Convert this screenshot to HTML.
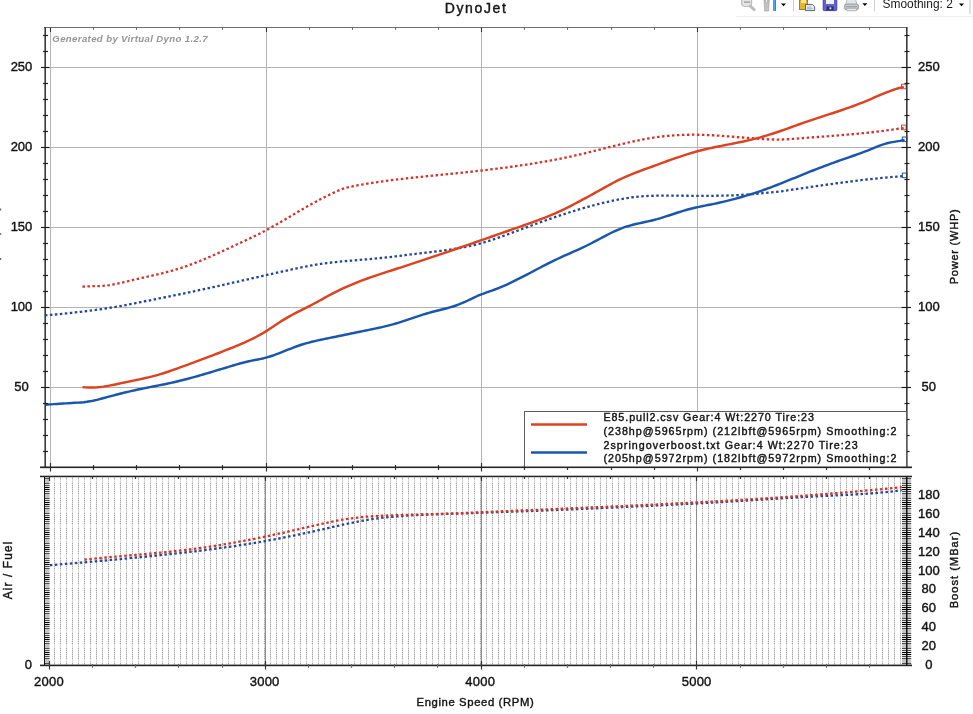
<!DOCTYPE html><html><head><meta charset="utf-8"><title>DynoJet</title><style>
html,body{margin:0;padding:0;background:#fff;overflow:hidden}
svg{display:block;filter:blur(0.3px)}text{font-family:"Liberation Sans", sans-serif;stroke:#111;stroke-width:0.4px}
</style></head><body>
<svg width="973" height="714" viewBox="0 0 973 714">
<rect width="973" height="714" fill="#fff"/>
<rect x="736" y="16" width="237" height="1" fill="#efefef"/>
<rect x="741.6" y="-4" width="10" height="10.5" rx="3.5" fill="#e4e4e4" stroke="#bcbcbc" stroke-width="1.2"/>
<rect x="744" y="1.4" width="6" height="1.6" fill="#a9a9a9"/>
<line x1="750.3" y1="6.2" x2="754.2" y2="9.6" stroke="#bdbdbd" stroke-width="3" stroke-linecap="round"/>
<path d="M764,0 L764.5,8 L764.5,11 L768.8,11 L768.8,8 L769.3,0 L767.6,0 L767.4,3 L766,3 L765.8,0 Z" fill="#c2c2c2" stroke="#a0a0a0" stroke-width="0.6"/>
<rect x="773" y="0" width="3" height="11" fill="#2a8ad8"/>
<rect x="773.6" y="0" width="1" height="11" fill="#6fc0f5"/>
<path d="M781,3.4 L786,3.4 L783.5,6.3 Z" fill="#000"/>
<rect x="793" y="0" width="1" height="11.5" fill="#cfcfcf"/>
<rect x="799.5" y="0" width="8" height="9.5" fill="#e0b830" stroke="#8a6a10" stroke-width="0.8"/>
<rect x="801" y="0" width="5" height="3" fill="#f6e49a"/>
<path d="M805.5,4.5 L812.5,4.5 L814.6,6.6 L814.6,10.6 L805.5,10.6 Z" fill="#e8eef4" stroke="#4a5668" stroke-width="0.9"/>
<line x1="807" y1="7" x2="811.5" y2="7" stroke="#8a9ab0" stroke-width="0.8"/>
<line x1="807" y1="8.8" x2="812.5" y2="8.8" stroke="#8a9ab0" stroke-width="0.8"/>
<rect x="823.2" y="-1" width="13.6" height="11.6" rx="1" fill="#6464c8" stroke="#3a3a92" stroke-width="0.9"/>
<rect x="826" y="-1" width="8" height="5" fill="#eef0ff"/>
<rect x="826.5" y="6.4" width="7" height="4" fill="#2e2e78"/>
<rect x="829.5" y="7.3" width="1.8" height="2" fill="#dde"/>
<path d="M847.2,-1 L855.5,-1 L857,5 L845.6,5 Z" fill="#e3e7e9" stroke="#9aa0a3" stroke-width="0.7"/>
<rect x="844.3" y="4" width="14.4" height="5.8" rx="2.6" fill="#c5c9cb" stroke="#8c9194" stroke-width="0.8"/>
<rect x="845.5" y="6" width="12" height="1.2" fill="#a3a8ab"/>
<rect x="846.3" y="8.2" width="10.5" height="2.6" rx="1.2" fill="#e2e5e6" stroke="#8c9194" stroke-width="0.6"/>
<path d="M862.4,3.2 L867.4,3.2 L864.9,6.1 Z" fill="#000"/>
<rect x="874" y="0" width="1" height="11.5" fill="#cfcfcf"/>
<text x="882.5" y="8.2" font-size="12" fill="#1a1a1a" style="stroke:none" textLength="70.3" lengthAdjust="spacingAndGlyphs">Smoothing: 2</text>
<path d="M959,3.4 L964,3.4 L961.5,6.3 Z" fill="#000"/>
<rect x="969.5" y="0" width="1" height="14" fill="#c4c4c4"/>
<rect x="0" y="208.5" width="1.2" height="2" fill="#666"/>
<rect x="0" y="233" width="1.2" height="2" fill="#777"/>
<rect x="0" y="258" width="1.2" height="2" fill="#666"/>
<text x="444.8" y="12.8" font-size="14" fill="#151515" textLength="61" lengthAdjust="spacing">DynoJet</text>
<line x1="46" y1="387.5" x2="906" y2="387.5" stroke="#b3b3b3" stroke-width="1"/>
<line x1="46" y1="307.5" x2="906" y2="307.5" stroke="#b3b3b3" stroke-width="1"/>
<line x1="46" y1="227.5" x2="906" y2="227.5" stroke="#b3b3b3" stroke-width="1"/>
<line x1="46" y1="147.5" x2="906" y2="147.5" stroke="#b3b3b3" stroke-width="1"/>
<line x1="46" y1="67.5" x2="906" y2="67.5" stroke="#b3b3b3" stroke-width="1"/>
<line x1="50.5" y1="28" x2="50.5" y2="467" stroke="#b3b3b3" stroke-width="1"/>
<line x1="266.5" y1="28" x2="266.5" y2="467" stroke="#b3b3b3" stroke-width="1"/>
<line x1="481.5" y1="28" x2="481.5" y2="467" stroke="#b3b3b3" stroke-width="1"/>
<line x1="697.5" y1="28" x2="697.5" y2="467" stroke="#b3b3b3" stroke-width="1"/>
<text x="52.3" y="42" font-size="9.6" font-weight="bold" font-style="italic" fill="#959595" style="stroke:none" textLength="155.3" lengthAdjust="spacing">Generated by Virtual Dyno 1.2.7</text>
<path d="M44.9,315.40 L47.9,315.13 L50.9,314.87 L53.9,314.59 L56.9,314.31 L59.9,314.02 L62.9,313.73 L65.9,313.43 L68.9,313.11 L71.9,312.80 L74.9,312.47 L77.9,312.13 L80.9,311.78 L83.9,311.42 L86.9,311.05 L89.9,310.67 L92.9,310.28 L95.9,309.87 L98.9,309.45 L101.9,309.02 L104.9,308.58 L107.9,308.12 L110.9,307.65 L113.9,307.16 L116.9,306.65 L119.9,306.13 L122.9,305.59 L125.9,305.04 L128.9,304.47 L131.9,303.89 L134.9,303.30 L137.9,302.70 L140.9,302.10 L143.9,301.49 L146.9,300.88 L149.9,300.27 L152.9,299.66 L155.9,299.05 L158.9,298.45 L161.9,297.85 L164.9,297.25 L167.9,296.66 L170.9,296.06 L173.9,295.46 L176.9,294.86 L179.9,294.25 L182.9,293.63 L185.9,293.01 L188.9,292.38 L191.9,291.75 L194.9,291.11 L197.9,290.47 L200.9,289.82 L203.9,289.17 L206.9,288.52 L209.9,287.86 L212.9,287.19 L215.9,286.52 L218.9,285.85 L221.9,285.18 L224.9,284.51 L227.9,283.83 L230.9,283.15 L233.9,282.47 L236.9,281.79 L239.9,281.11 L242.9,280.42 L245.9,279.74 L248.9,279.06 L251.9,278.37 L254.9,277.69 L257.9,277.01 L260.9,276.33 L263.9,275.65 L266.9,274.97 L269.9,274.30 L272.9,273.62 L275.9,272.95 L278.9,272.28 L281.9,271.62 L284.9,270.96 L287.9,270.30 L290.9,269.65 L293.9,269.00 L296.9,268.36 L299.9,267.73 L302.9,267.12 L305.9,266.52 L308.9,265.95 L311.9,265.40 L314.9,264.88 L317.9,264.39 L320.9,263.93 L323.9,263.51 L326.9,263.11 L329.9,262.75 L332.9,262.40 L335.9,262.07 L338.9,261.76 L341.9,261.47 L344.9,261.19 L347.9,260.92 L350.9,260.65 L353.9,260.40 L356.9,260.15 L359.9,259.90 L362.9,259.65 L365.9,259.39 L368.9,259.14 L371.9,258.87 L374.9,258.60 L377.9,258.31 L380.9,258.01 L383.9,257.70 L386.9,257.37 L389.9,257.03 L392.9,256.67 L395.9,256.31 L398.9,255.94 L401.9,255.57 L404.9,255.19 L407.9,254.82 L410.9,254.45 L413.9,254.08 L416.9,253.72 L419.9,253.36 L422.9,253.01 L425.9,252.66 L428.9,252.31 L431.9,251.95 L434.9,251.59 L437.9,251.22 L440.9,250.84 L443.9,250.44 L446.9,250.02 L449.9,249.59 L452.9,249.13 L455.9,248.65 L458.9,248.14 L461.9,247.60 L464.9,247.03 L467.9,246.42 L470.9,245.77 L473.9,245.07 L476.9,244.34 L479.9,243.55 L482.9,242.72 L485.9,241.84 L488.9,240.91 L491.9,239.94 L494.9,238.93 L497.9,237.90 L500.9,236.84 L503.9,235.75 L506.9,234.65 L509.9,233.53 L512.9,232.41 L515.9,231.29 L518.9,230.16 L521.9,229.04 L524.9,227.92 L527.9,226.81 L530.9,225.71 L533.9,224.61 L536.9,223.52 L539.9,222.43 L542.9,221.36 L545.9,220.30 L548.9,219.24 L551.9,218.20 L554.9,217.17 L557.9,216.16 L560.9,215.16 L563.9,214.17 L566.9,213.19 L569.9,212.24 L572.9,211.30 L575.9,210.37 L578.9,209.47 L581.9,208.58 L584.9,207.72 L587.9,206.87 L590.9,206.04 L593.9,205.24 L596.9,204.46 L599.9,203.70 L602.9,202.96 L605.9,202.25 L608.9,201.57 L611.9,200.91 L614.9,200.28 L617.9,199.68 L620.9,199.11 L623.9,198.58 L626.9,198.09 L629.9,197.64 L632.9,197.24 L635.9,196.89 L638.9,196.59 L641.9,196.33 L644.9,196.13 L647.9,195.96 L650.9,195.83 L653.9,195.74 L656.9,195.68 L659.9,195.64 L662.9,195.62 L665.9,195.62 L668.9,195.63 L671.9,195.64 L674.9,195.66 L677.9,195.69 L680.9,195.71 L683.9,195.74 L686.9,195.76 L689.9,195.79 L692.9,195.81 L695.9,195.82 L698.9,195.84 L701.9,195.84 L704.9,195.84 L707.9,195.83 L710.9,195.81 L713.9,195.79 L716.9,195.75 L719.9,195.70 L722.9,195.64 L725.9,195.56 L728.9,195.46 L731.9,195.36 L734.9,195.23 L737.9,195.09 L740.9,194.92 L743.9,194.74 L746.9,194.53 L749.9,194.31 L752.9,194.06 L755.9,193.79 L758.9,193.50 L761.9,193.22 L764.9,192.93 L767.9,192.66 L770.9,192.40 L773.9,192.13 L776.9,191.84 L779.9,191.48 L782.9,191.06 L785.9,190.61 L788.9,190.17 L791.9,189.73 L794.9,189.29 L797.9,188.84 L800.9,188.40 L803.9,187.96 L806.9,187.52 L809.9,187.08 L812.9,186.64 L815.9,186.21 L818.9,185.78 L821.9,185.35 L824.9,184.92 L827.9,184.50 L830.9,184.08 L833.9,183.67 L836.9,183.26 L839.9,182.85 L842.9,182.46 L845.9,182.06 L848.9,181.68 L851.9,181.30 L854.9,180.92 L857.9,180.56 L860.9,180.20 L863.9,179.85 L866.9,179.51 L869.9,179.18 L872.9,178.85 L875.9,178.54 L878.9,178.23 L881.9,177.94 L884.9,177.66 L887.9,177.38 L890.9,177.12 L893.9,176.87 L896.9,176.63 L899.9,176.41 L902.9,176.20 L904.6,176.08" fill="none" stroke="#24469a" stroke-width="2.3" stroke-dasharray="2.5 2.5"/>
<path d="M82.4,286.69 L85.4,286.46 L88.4,286.32 L91.4,286.24 L94.4,286.18 L97.4,286.12 L100.4,286.02 L103.4,285.85 L106.4,285.58 L109.4,285.19 L112.4,284.69 L115.4,284.10 L118.4,283.45 L121.4,282.75 L124.4,282.02 L127.4,281.28 L130.4,280.56 L133.4,279.85 L136.4,279.16 L139.4,278.48 L142.4,277.80 L145.4,277.13 L148.4,276.46 L151.4,275.78 L154.4,275.09 L157.4,274.39 L160.4,273.67 L163.4,272.93 L166.4,272.17 L169.4,271.37 L172.4,270.55 L175.4,269.68 L178.4,268.78 L181.4,267.83 L184.4,266.83 L187.4,265.79 L190.4,264.70 L193.4,263.57 L196.4,262.41 L199.4,261.21 L202.4,259.97 L205.4,258.71 L208.4,257.43 L211.4,256.12 L214.4,254.79 L217.4,253.45 L220.4,252.09 L223.4,250.72 L226.4,249.34 L229.4,247.96 L232.4,246.57 L235.4,245.18 L238.4,243.80 L241.4,242.41 L244.4,241.01 L247.4,239.59 L250.4,238.16 L253.4,236.71 L256.4,235.24 L259.4,233.74 L262.4,232.20 L265.4,230.63 L268.4,229.01 L271.4,227.36 L274.4,225.67 L277.4,223.95 L280.4,222.21 L283.4,220.45 L286.4,218.67 L289.4,216.89 L292.4,215.11 L295.4,213.33 L298.4,211.56 L301.4,209.81 L304.4,208.08 L307.4,206.37 L310.4,204.68 L313.4,203.02 L316.4,201.39 L319.4,199.80 L322.4,198.23 L325.4,196.70 L328.4,195.21 L331.4,193.76 L334.4,192.36 L337.4,191.01 L340.4,189.77 L343.4,188.66 L346.4,187.72 L349.4,186.93 L352.4,186.27 L355.4,185.69 L358.4,185.15 L361.4,184.64 L364.4,184.13 L367.4,183.65 L370.4,183.17 L373.4,182.72 L376.4,182.27 L379.4,181.84 L382.4,181.42 L385.4,181.01 L388.4,180.61 L391.4,180.22 L394.4,179.85 L397.4,179.48 L400.4,179.12 L403.4,178.77 L406.4,178.42 L409.4,178.09 L412.4,177.75 L415.4,177.43 L418.4,177.11 L421.4,176.79 L424.4,176.48 L427.4,176.17 L430.4,175.87 L433.4,175.56 L436.4,175.26 L439.4,174.96 L442.4,174.66 L445.4,174.36 L448.4,174.05 L451.4,173.75 L454.4,173.44 L457.4,173.13 L460.4,172.82 L463.4,172.51 L466.4,172.19 L469.4,171.87 L472.4,171.54 L475.4,171.21 L478.4,170.87 L481.4,170.53 L484.4,170.18 L487.4,169.83 L490.4,169.47 L493.4,169.10 L496.4,168.73 L499.4,168.35 L502.4,167.97 L505.4,167.57 L508.4,167.17 L511.4,166.76 L514.4,166.34 L517.4,165.91 L520.4,165.47 L523.4,165.03 L526.4,164.57 L529.4,164.10 L532.4,163.62 L535.4,163.14 L538.4,162.64 L541.4,162.13 L544.4,161.61 L547.4,161.07 L550.4,160.53 L553.4,159.97 L556.4,159.40 L559.4,158.81 L562.4,158.21 L565.4,157.60 L568.4,156.97 L571.4,156.33 L574.4,155.68 L577.4,155.01 L580.4,154.32 L583.4,153.62 L586.4,152.91 L589.4,152.18 L592.4,151.44 L595.4,150.69 L598.4,149.93 L601.4,149.17 L604.4,148.40 L607.4,147.64 L610.4,146.88 L613.4,146.12 L616.4,145.38 L619.4,144.64 L622.4,143.91 L625.4,143.20 L628.4,142.50 L631.4,141.82 L634.4,141.16 L637.4,140.53 L640.4,139.92 L643.4,139.34 L646.4,138.79 L649.4,138.27 L652.4,137.79 L655.4,137.34 L658.4,136.93 L661.4,136.56 L664.4,136.22 L667.4,135.92 L670.4,135.65 L673.4,135.42 L676.4,135.22 L679.4,135.05 L682.4,134.92 L685.4,134.82 L688.4,134.76 L691.4,134.72 L694.4,134.71 L697.4,134.74 L700.4,134.80 L703.4,134.88 L706.4,134.99 L709.4,135.12 L712.4,135.27 L715.4,135.45 L718.4,135.64 L721.4,135.84 L724.4,136.06 L727.4,136.29 L730.4,136.53 L733.4,136.77 L736.4,137.02 L739.4,137.27 L742.4,137.52 L745.4,137.76 L748.4,138.01 L751.4,138.24 L754.4,138.47 L757.4,138.69 L760.4,138.89 L763.4,139.08 L766.4,139.24 L769.4,139.38 L772.4,139.48 L775.4,139.53 L778.4,139.54 L781.4,139.49 L784.4,139.39 L787.4,139.24 L790.4,139.05 L793.4,138.84 L796.4,138.62 L799.4,138.38 L802.4,138.15 L805.4,137.92 L808.4,137.69 L811.4,137.46 L814.4,137.24 L817.4,137.01 L820.4,136.78 L823.4,136.56 L826.4,136.32 L829.4,136.09 L832.4,135.86 L835.4,135.62 L838.4,135.37 L841.4,135.13 L844.4,134.87 L847.4,134.61 L850.4,134.35 L853.4,134.08 L856.4,133.80 L859.4,133.51 L862.4,133.21 L865.4,132.90 L868.4,132.59 L871.4,132.26 L874.4,131.93 L877.4,131.58 L880.4,131.21 L883.4,130.84 L886.4,130.45 L889.4,130.05 L892.4,129.64 L895.4,129.21 L898.4,128.76 L901.4,128.30 L903.8,127.91" fill="none" stroke="#d5332a" stroke-width="2.3" stroke-dasharray="2.5 2.5"/>
<path d="M44.9,404.81 L47.9,404.58 L50.9,404.36 L53.9,404.15 L56.9,403.94 L59.9,403.74 L62.9,403.55 L65.9,403.36 L68.9,403.18 L71.9,403.00 L74.9,402.83 L77.9,402.65 L80.9,402.43 L83.9,402.16 L86.9,401.80 L89.9,401.33 L92.9,400.75 L95.9,400.07 L98.9,399.32 L101.9,398.53 L104.9,397.71 L107.9,396.90 L110.9,396.10 L113.9,395.31 L116.9,394.53 L119.9,393.77 L122.9,393.03 L125.9,392.30 L128.9,391.59 L131.9,390.89 L134.9,390.22 L137.9,389.57 L140.9,388.94 L143.9,388.33 L146.9,387.73 L149.9,387.14 L152.9,386.56 L155.9,385.97 L158.9,385.39 L161.9,384.79 L164.9,384.18 L167.9,383.55 L170.9,382.90 L173.9,382.22 L176.9,381.52 L179.9,380.79 L182.9,380.04 L185.9,379.26 L188.9,378.47 L191.9,377.65 L194.9,376.82 L197.9,375.98 L200.9,375.12 L203.9,374.25 L206.9,373.37 L209.9,372.48 L212.9,371.58 L215.9,370.68 L218.9,369.78 L221.9,368.88 L224.9,367.97 L227.9,367.07 L230.9,366.17 L233.9,365.28 L236.9,364.40 L239.9,363.54 L242.9,362.72 L245.9,361.95 L248.9,361.25 L251.9,360.62 L254.9,360.03 L257.9,359.46 L260.9,358.85 L263.9,358.18 L266.9,357.41 L269.9,356.52 L272.9,355.53 L275.9,354.45 L278.9,353.32 L281.9,352.14 L284.9,350.93 L287.9,349.73 L290.9,348.53 L293.9,347.37 L296.9,346.26 L299.9,345.23 L302.9,344.27 L305.9,343.38 L308.9,342.56 L311.9,341.80 L314.9,341.08 L317.9,340.40 L320.9,339.75 L323.9,339.12 L326.9,338.51 L329.9,337.90 L332.9,337.29 L335.9,336.68 L338.9,336.06 L341.9,335.44 L344.9,334.81 L347.9,334.18 L350.9,333.56 L353.9,332.94 L356.9,332.32 L359.9,331.71 L362.9,331.10 L365.9,330.50 L368.9,329.89 L371.9,329.27 L374.9,328.65 L377.9,328.00 L380.9,327.34 L383.9,326.64 L386.9,325.92 L389.9,325.16 L392.9,324.35 L395.9,323.50 L398.9,322.60 L401.9,321.65 L404.9,320.67 L407.9,319.67 L410.9,318.65 L413.9,317.63 L416.9,316.62 L419.9,315.62 L422.9,314.66 L425.9,313.73 L428.9,312.84 L431.9,312.02 L434.9,311.23 L437.9,310.48 L440.9,309.73 L443.9,308.97 L446.9,308.19 L449.9,307.36 L452.9,306.46 L455.9,305.49 L458.9,304.42 L461.9,303.23 L464.9,301.92 L467.9,300.51 L470.9,299.07 L473.9,297.62 L476.9,296.24 L479.9,294.95 L482.9,293.78 L485.9,292.69 L488.9,291.64 L491.9,290.59 L494.9,289.51 L497.9,288.36 L500.9,287.14 L503.9,285.86 L506.9,284.52 L509.9,283.13 L512.9,281.69 L515.9,280.22 L518.9,278.71 L521.9,277.17 L524.9,275.61 L527.9,274.04 L530.9,272.46 L533.9,270.88 L536.9,269.29 L539.9,267.72 L542.9,266.16 L545.9,264.62 L548.9,263.10 L551.9,261.61 L554.9,260.16 L557.9,258.74 L560.9,257.35 L563.9,255.99 L566.9,254.65 L569.9,253.32 L572.9,251.99 L575.9,250.65 L578.9,249.29 L581.9,247.91 L584.9,246.49 L587.9,245.02 L590.9,243.51 L593.9,241.94 L596.9,240.35 L599.9,238.74 L602.9,237.14 L605.9,235.55 L608.9,234.01 L611.9,232.52 L614.9,231.10 L617.9,229.77 L620.9,228.54 L623.9,227.44 L626.9,226.46 L629.9,225.58 L632.9,224.78 L635.9,224.05 L638.9,223.36 L641.9,222.70 L644.9,222.05 L647.9,221.39 L650.9,220.71 L653.9,219.97 L656.9,219.18 L659.9,218.31 L662.9,217.40 L665.9,216.45 L668.9,215.47 L671.9,214.48 L674.9,213.48 L677.9,212.50 L680.9,211.55 L683.9,210.63 L686.9,209.76 L689.9,208.95 L692.9,208.21 L695.9,207.51 L698.9,206.86 L701.9,206.24 L704.9,205.63 L707.9,205.04 L710.9,204.44 L713.9,203.84 L716.9,203.21 L719.9,202.55 L722.9,201.87 L725.9,201.16 L728.9,200.42 L731.9,199.66 L734.9,198.87 L737.9,198.05 L740.9,197.21 L743.9,196.34 L746.9,195.44 L749.9,194.51 L752.9,193.56 L755.9,192.58 L758.9,191.57 L761.9,190.54 L764.9,189.48 L767.9,188.39 L770.9,187.28 L773.9,186.14 L776.9,184.99 L779.9,183.81 L782.9,182.62 L785.9,181.42 L788.9,180.21 L791.9,178.99 L794.9,177.77 L797.9,176.55 L800.9,175.33 L803.9,174.11 L806.9,172.90 L809.9,171.70 L812.9,170.51 L815.9,169.33 L818.9,168.17 L821.9,167.03 L824.9,165.90 L827.9,164.78 L830.9,163.68 L833.9,162.59 L836.9,161.52 L839.9,160.45 L842.9,159.39 L845.9,158.34 L848.9,157.30 L851.9,156.27 L854.9,155.23 L857.9,154.17 L860.9,153.08 L863.9,151.95 L866.9,150.77 L869.9,149.55 L872.9,148.33 L875.9,147.11 L878.9,145.95 L881.9,144.87 L884.9,143.89 L887.9,143.05 L890.9,142.37 L893.9,141.84 L896.9,141.37 L899.9,140.88 L902.9,140.27 L904.6,139.84" fill="none" stroke="#1a56ab" stroke-width="2.45" stroke-linejoin="round"/>
<path d="M82.4,387.10 L85.4,387.40 L88.4,387.56 L91.4,387.59 L94.4,387.49 L97.4,387.29 L100.4,387.00 L103.4,386.62 L106.4,386.16 L109.4,385.64 L112.4,385.07 L115.4,384.46 L118.4,383.82 L121.4,383.17 L124.4,382.51 L127.4,381.85 L130.4,381.21 L133.4,380.58 L136.4,379.97 L139.4,379.35 L142.4,378.72 L145.4,378.07 L148.4,377.38 L151.4,376.66 L154.4,375.89 L157.4,375.06 L160.4,374.18 L163.4,373.24 L166.4,372.27 L169.4,371.25 L172.4,370.21 L175.4,369.14 L178.4,368.06 L181.4,366.97 L184.4,365.88 L187.4,364.78 L190.4,363.68 L193.4,362.57 L196.4,361.46 L199.4,360.34 L202.4,359.22 L205.4,358.09 L208.4,356.95 L211.4,355.81 L214.4,354.66 L217.4,353.50 L220.4,352.33 L223.4,351.15 L226.4,349.96 L229.4,348.76 L232.4,347.55 L235.4,346.32 L238.4,345.08 L241.4,343.81 L244.4,342.51 L247.4,341.15 L250.4,339.75 L253.4,338.28 L256.4,336.75 L259.4,335.13 L262.4,333.43 L265.4,331.63 L268.4,329.73 L271.4,327.76 L274.4,325.76 L277.4,323.75 L280.4,321.79 L283.4,319.90 L286.4,318.11 L289.4,316.40 L292.4,314.75 L295.4,313.16 L298.4,311.61 L301.4,310.09 L304.4,308.58 L307.4,307.07 L310.4,305.54 L313.4,303.99 L316.4,302.39 L319.4,300.75 L322.4,299.09 L325.4,297.43 L328.4,295.78 L331.4,294.16 L334.4,292.59 L337.4,291.07 L340.4,289.62 L343.4,288.21 L346.4,286.86 L349.4,285.55 L352.4,284.28 L355.4,283.06 L358.4,281.87 L361.4,280.72 L364.4,279.60 L367.4,278.51 L370.4,277.44 L373.4,276.40 L376.4,275.38 L379.4,274.37 L382.4,273.38 L385.4,272.40 L388.4,271.43 L391.4,270.46 L394.4,269.50 L397.4,268.53 L400.4,267.57 L403.4,266.59 L406.4,265.62 L409.4,264.64 L412.4,263.65 L415.4,262.66 L418.4,261.67 L421.4,260.67 L424.4,259.67 L427.4,258.67 L430.4,257.66 L433.4,256.65 L436.4,255.64 L439.4,254.62 L442.4,253.61 L445.4,252.58 L448.4,251.56 L451.4,250.53 L454.4,249.50 L457.4,248.47 L460.4,247.44 L463.4,246.40 L466.4,245.37 L469.4,244.33 L472.4,243.29 L475.4,242.24 L478.4,241.20 L481.4,240.16 L484.4,239.11 L487.4,238.07 L490.4,237.02 L493.4,235.97 L496.4,234.92 L499.4,233.88 L502.4,232.83 L505.4,231.78 L508.4,230.73 L511.4,229.68 L514.4,228.63 L517.4,227.59 L520.4,226.54 L523.4,225.49 L526.4,224.43 L529.4,223.37 L532.4,222.29 L535.4,221.19 L538.4,220.08 L541.4,218.94 L544.4,217.78 L547.4,216.59 L550.4,215.36 L553.4,214.10 L556.4,212.80 L559.4,211.45 L562.4,210.06 L565.4,208.62 L568.4,207.12 L571.4,205.58 L574.4,204.00 L577.4,202.40 L580.4,200.80 L583.4,199.20 L586.4,197.61 L589.4,196.00 L592.4,194.36 L595.4,192.69 L598.4,191.01 L601.4,189.32 L604.4,187.63 L607.4,185.97 L610.4,184.33 L613.4,182.73 L616.4,181.18 L619.4,179.68 L622.4,178.26 L625.4,176.90 L628.4,175.60 L631.4,174.36 L634.4,173.16 L637.4,171.99 L640.4,170.86 L643.4,169.74 L646.4,168.65 L649.4,167.56 L652.4,166.48 L655.4,165.39 L658.4,164.29 L661.4,163.19 L664.4,162.10 L667.4,161.02 L670.4,159.94 L673.4,158.88 L676.4,157.83 L679.4,156.80 L682.4,155.80 L685.4,154.83 L688.4,153.88 L691.4,152.97 L694.4,152.10 L697.4,151.27 L700.4,150.48 L703.4,149.73 L706.4,149.02 L709.4,148.34 L712.4,147.69 L715.4,147.06 L718.4,146.44 L721.4,145.85 L724.4,145.26 L727.4,144.67 L730.4,144.09 L733.4,143.50 L736.4,142.91 L739.4,142.30 L742.4,141.68 L745.4,141.03 L748.4,140.36 L751.4,139.66 L754.4,138.93 L757.4,138.16 L760.4,137.34 L763.4,136.48 L766.4,135.59 L769.4,134.68 L772.4,133.74 L775.4,132.78 L778.4,131.78 L781.4,130.75 L784.4,129.69 L787.4,128.61 L790.4,127.51 L793.4,126.41 L796.4,125.32 L799.4,124.23 L802.4,123.17 L805.4,122.13 L808.4,121.11 L811.4,120.10 L814.4,119.11 L817.4,118.12 L820.4,117.14 L823.4,116.16 L826.4,115.19 L829.4,114.21 L832.4,113.22 L835.4,112.23 L838.4,111.23 L841.4,110.22 L844.4,109.19 L847.4,108.14 L850.4,107.07 L853.4,105.98 L856.4,104.86 L859.4,103.71 L862.4,102.53 L865.4,101.31 L868.4,100.06 L871.4,98.78 L874.4,97.49 L877.4,96.21 L880.4,94.93 L883.4,93.69 L886.4,92.48 L889.4,91.32 L892.4,90.22 L895.4,89.20 L898.4,88.27 L901.4,87.44 L903.8,86.86" fill="none" stroke="#dc4321" stroke-width="2.45" stroke-linejoin="round"/>
<rect x="901.5" y="84.2" width="4.6" height="4.6" fill="none" stroke="#dc4321" stroke-width="1"/>
<rect x="901.5" y="125.1" width="4.6" height="4.6" fill="none" stroke="#dc4321" stroke-width="1"/>
<rect x="902.3" y="137.0" width="4.6" height="4.6" fill="none" stroke="#1a56ab" stroke-width="1"/>
<rect x="902.3" y="173.1" width="4.6" height="4.6" fill="none" stroke="#1a56ab" stroke-width="1"/>
<rect x="44" y="27" width="863" height="1" fill="#6e6e6e"/>
<rect x="44.4" y="27" width="1.6" height="441" fill="#3a3a3a"/>
<rect x="906" y="27" width="1.6" height="441" fill="#3a3a3a"/>
<line x1="41" y1="467.5" x2="49.5" y2="467.5" stroke="#1e1e1e" stroke-width="1.2"/>
<line x1="901.5" y1="467.5" x2="911" y2="467.5" stroke="#1e1e1e" stroke-width="1.2"/>
<line x1="43" y1="451.5" x2="48" y2="451.5" stroke="#1e1e1e" stroke-width="1.2"/>
<line x1="904.5" y1="451.5" x2="909.5" y2="451.5" stroke="#1e1e1e" stroke-width="1.2"/>
<line x1="43" y1="435.5" x2="48" y2="435.5" stroke="#1e1e1e" stroke-width="1.2"/>
<line x1="904.5" y1="435.5" x2="909.5" y2="435.5" stroke="#1e1e1e" stroke-width="1.2"/>
<line x1="43" y1="419.5" x2="48" y2="419.5" stroke="#1e1e1e" stroke-width="1.2"/>
<line x1="904.5" y1="419.5" x2="909.5" y2="419.5" stroke="#1e1e1e" stroke-width="1.2"/>
<line x1="43" y1="403.5" x2="48" y2="403.5" stroke="#1e1e1e" stroke-width="1.2"/>
<line x1="904.5" y1="403.5" x2="909.5" y2="403.5" stroke="#1e1e1e" stroke-width="1.2"/>
<line x1="41" y1="387.5" x2="49.5" y2="387.5" stroke="#1e1e1e" stroke-width="1.2"/>
<line x1="901.5" y1="387.5" x2="911" y2="387.5" stroke="#1e1e1e" stroke-width="1.2"/>
<line x1="43" y1="371.5" x2="48" y2="371.5" stroke="#1e1e1e" stroke-width="1.2"/>
<line x1="904.5" y1="371.5" x2="909.5" y2="371.5" stroke="#1e1e1e" stroke-width="1.2"/>
<line x1="43" y1="355.5" x2="48" y2="355.5" stroke="#1e1e1e" stroke-width="1.2"/>
<line x1="904.5" y1="355.5" x2="909.5" y2="355.5" stroke="#1e1e1e" stroke-width="1.2"/>
<line x1="43" y1="339.5" x2="48" y2="339.5" stroke="#1e1e1e" stroke-width="1.2"/>
<line x1="904.5" y1="339.5" x2="909.5" y2="339.5" stroke="#1e1e1e" stroke-width="1.2"/>
<line x1="43" y1="323.5" x2="48" y2="323.5" stroke="#1e1e1e" stroke-width="1.2"/>
<line x1="904.5" y1="323.5" x2="909.5" y2="323.5" stroke="#1e1e1e" stroke-width="1.2"/>
<line x1="41" y1="307.5" x2="49.5" y2="307.5" stroke="#1e1e1e" stroke-width="1.2"/>
<line x1="901.5" y1="307.5" x2="911" y2="307.5" stroke="#1e1e1e" stroke-width="1.2"/>
<line x1="43" y1="291.5" x2="48" y2="291.5" stroke="#1e1e1e" stroke-width="1.2"/>
<line x1="904.5" y1="291.5" x2="909.5" y2="291.5" stroke="#1e1e1e" stroke-width="1.2"/>
<line x1="43" y1="275.5" x2="48" y2="275.5" stroke="#1e1e1e" stroke-width="1.2"/>
<line x1="904.5" y1="275.5" x2="909.5" y2="275.5" stroke="#1e1e1e" stroke-width="1.2"/>
<line x1="43" y1="259.5" x2="48" y2="259.5" stroke="#1e1e1e" stroke-width="1.2"/>
<line x1="904.5" y1="259.5" x2="909.5" y2="259.5" stroke="#1e1e1e" stroke-width="1.2"/>
<line x1="43" y1="243.5" x2="48" y2="243.5" stroke="#1e1e1e" stroke-width="1.2"/>
<line x1="904.5" y1="243.5" x2="909.5" y2="243.5" stroke="#1e1e1e" stroke-width="1.2"/>
<line x1="41" y1="227.5" x2="49.5" y2="227.5" stroke="#1e1e1e" stroke-width="1.2"/>
<line x1="901.5" y1="227.5" x2="911" y2="227.5" stroke="#1e1e1e" stroke-width="1.2"/>
<line x1="43" y1="211.5" x2="48" y2="211.5" stroke="#1e1e1e" stroke-width="1.2"/>
<line x1="904.5" y1="211.5" x2="909.5" y2="211.5" stroke="#1e1e1e" stroke-width="1.2"/>
<line x1="43" y1="195.5" x2="48" y2="195.5" stroke="#1e1e1e" stroke-width="1.2"/>
<line x1="904.5" y1="195.5" x2="909.5" y2="195.5" stroke="#1e1e1e" stroke-width="1.2"/>
<line x1="43" y1="179.5" x2="48" y2="179.5" stroke="#1e1e1e" stroke-width="1.2"/>
<line x1="904.5" y1="179.5" x2="909.5" y2="179.5" stroke="#1e1e1e" stroke-width="1.2"/>
<line x1="43" y1="163.5" x2="48" y2="163.5" stroke="#1e1e1e" stroke-width="1.2"/>
<line x1="904.5" y1="163.5" x2="909.5" y2="163.5" stroke="#1e1e1e" stroke-width="1.2"/>
<line x1="41" y1="147.5" x2="49.5" y2="147.5" stroke="#1e1e1e" stroke-width="1.2"/>
<line x1="901.5" y1="147.5" x2="911" y2="147.5" stroke="#1e1e1e" stroke-width="1.2"/>
<line x1="43" y1="131.5" x2="48" y2="131.5" stroke="#1e1e1e" stroke-width="1.2"/>
<line x1="904.5" y1="131.5" x2="909.5" y2="131.5" stroke="#1e1e1e" stroke-width="1.2"/>
<line x1="43" y1="115.5" x2="48" y2="115.5" stroke="#1e1e1e" stroke-width="1.2"/>
<line x1="904.5" y1="115.5" x2="909.5" y2="115.5" stroke="#1e1e1e" stroke-width="1.2"/>
<line x1="43" y1="99.5" x2="48" y2="99.5" stroke="#1e1e1e" stroke-width="1.2"/>
<line x1="904.5" y1="99.5" x2="909.5" y2="99.5" stroke="#1e1e1e" stroke-width="1.2"/>
<line x1="43" y1="83.5" x2="48" y2="83.5" stroke="#1e1e1e" stroke-width="1.2"/>
<line x1="904.5" y1="83.5" x2="909.5" y2="83.5" stroke="#1e1e1e" stroke-width="1.2"/>
<line x1="41" y1="67.5" x2="49.5" y2="67.5" stroke="#1e1e1e" stroke-width="1.2"/>
<line x1="901.5" y1="67.5" x2="911" y2="67.5" stroke="#1e1e1e" stroke-width="1.2"/>
<line x1="43" y1="51.5" x2="48" y2="51.5" stroke="#1e1e1e" stroke-width="1.2"/>
<line x1="904.5" y1="51.5" x2="909.5" y2="51.5" stroke="#1e1e1e" stroke-width="1.2"/>
<line x1="43" y1="35.5" x2="48" y2="35.5" stroke="#1e1e1e" stroke-width="1.2"/>
<line x1="904.5" y1="35.5" x2="909.5" y2="35.5" stroke="#1e1e1e" stroke-width="1.2"/>
<line x1="50.5" y1="27.5" x2="50.5" y2="32.0" stroke="#333" stroke-width="1.1"/>
<line x1="50.5" y1="463.0" x2="50.5" y2="471.5" stroke="#333" stroke-width="1.2"/>
<line x1="93.5" y1="27.5" x2="93.5" y2="29.8" stroke="#666" stroke-width="1.1"/>
<line x1="93.5" y1="465.0" x2="93.5" y2="470.0" stroke="#333" stroke-width="1.2"/>
<line x1="136.5" y1="27.5" x2="136.5" y2="29.8" stroke="#666" stroke-width="1.1"/>
<line x1="136.5" y1="465.0" x2="136.5" y2="470.0" stroke="#333" stroke-width="1.2"/>
<line x1="179.5" y1="27.5" x2="179.5" y2="29.8" stroke="#666" stroke-width="1.1"/>
<line x1="179.5" y1="465.0" x2="179.5" y2="470.0" stroke="#333" stroke-width="1.2"/>
<line x1="222.5" y1="27.5" x2="222.5" y2="29.8" stroke="#666" stroke-width="1.1"/>
<line x1="222.5" y1="465.0" x2="222.5" y2="470.0" stroke="#333" stroke-width="1.2"/>
<line x1="266.5" y1="27.5" x2="266.5" y2="32.0" stroke="#333" stroke-width="1.1"/>
<line x1="266.5" y1="463.0" x2="266.5" y2="471.5" stroke="#333" stroke-width="1.2"/>
<line x1="309.5" y1="27.5" x2="309.5" y2="29.8" stroke="#666" stroke-width="1.1"/>
<line x1="309.5" y1="465.0" x2="309.5" y2="470.0" stroke="#333" stroke-width="1.2"/>
<line x1="352.5" y1="27.5" x2="352.5" y2="29.8" stroke="#666" stroke-width="1.1"/>
<line x1="352.5" y1="465.0" x2="352.5" y2="470.0" stroke="#333" stroke-width="1.2"/>
<line x1="395.5" y1="27.5" x2="395.5" y2="29.8" stroke="#666" stroke-width="1.1"/>
<line x1="395.5" y1="465.0" x2="395.5" y2="470.0" stroke="#333" stroke-width="1.2"/>
<line x1="438.5" y1="27.5" x2="438.5" y2="29.8" stroke="#666" stroke-width="1.1"/>
<line x1="438.5" y1="465.0" x2="438.5" y2="470.0" stroke="#333" stroke-width="1.2"/>
<line x1="481.5" y1="27.5" x2="481.5" y2="32.0" stroke="#333" stroke-width="1.1"/>
<line x1="481.5" y1="463.0" x2="481.5" y2="471.5" stroke="#333" stroke-width="1.2"/>
<line x1="524.5" y1="27.5" x2="524.5" y2="29.8" stroke="#666" stroke-width="1.1"/>
<line x1="524.5" y1="465.0" x2="524.5" y2="470.0" stroke="#333" stroke-width="1.2"/>
<line x1="567.5" y1="27.5" x2="567.5" y2="29.8" stroke="#666" stroke-width="1.1"/>
<line x1="567.5" y1="465.0" x2="567.5" y2="470.0" stroke="#333" stroke-width="1.2"/>
<line x1="611.5" y1="27.5" x2="611.5" y2="29.8" stroke="#666" stroke-width="1.1"/>
<line x1="611.5" y1="465.0" x2="611.5" y2="470.0" stroke="#333" stroke-width="1.2"/>
<line x1="654.5" y1="27.5" x2="654.5" y2="29.8" stroke="#666" stroke-width="1.1"/>
<line x1="654.5" y1="465.0" x2="654.5" y2="470.0" stroke="#333" stroke-width="1.2"/>
<line x1="697.5" y1="27.5" x2="697.5" y2="32.0" stroke="#333" stroke-width="1.1"/>
<line x1="697.5" y1="463.0" x2="697.5" y2="471.5" stroke="#333" stroke-width="1.2"/>
<line x1="740.5" y1="27.5" x2="740.5" y2="29.8" stroke="#666" stroke-width="1.1"/>
<line x1="740.5" y1="465.0" x2="740.5" y2="470.0" stroke="#333" stroke-width="1.2"/>
<line x1="783.5" y1="27.5" x2="783.5" y2="29.8" stroke="#666" stroke-width="1.1"/>
<line x1="783.5" y1="465.0" x2="783.5" y2="470.0" stroke="#333" stroke-width="1.2"/>
<line x1="826.5" y1="27.5" x2="826.5" y2="29.8" stroke="#666" stroke-width="1.1"/>
<line x1="826.5" y1="465.0" x2="826.5" y2="470.0" stroke="#333" stroke-width="1.2"/>
<line x1="869.5" y1="27.5" x2="869.5" y2="29.8" stroke="#666" stroke-width="1.1"/>
<line x1="869.5" y1="465.0" x2="869.5" y2="470.0" stroke="#333" stroke-width="1.2"/>
<rect x="524.5" y="411.5" width="382" height="56" fill="#fff" stroke="#5c5c5c" stroke-width="1"/>
<line x1="531" y1="424.5" x2="587" y2="424.5" stroke="#dc4321" stroke-width="2.6"/>
<line x1="531" y1="452.5" x2="587" y2="452.5" stroke="#1a56ab" stroke-width="2.6"/>
<text x="603.4" y="421.0" font-size="10.7" fill="#151515" textLength="210.5" lengthAdjust="spacing">E85.pull2.csv Gear:4 Wt:2270 Tire:23</text>
<text x="603.4" y="434.9" font-size="10.7" fill="#151515" textLength="293.0" lengthAdjust="spacing">(238hp@5965rpm) (212lbft@5965rpm) Smoothing:2</text>
<text x="603.4" y="448.9" font-size="10.7" fill="#151515" textLength="254.4" lengthAdjust="spacing">2springoverboost.txt Gear:4 Wt:2270 Tire:23</text>
<text x="603.4" y="462.4" font-size="10.7" fill="#151515" textLength="293.0" lengthAdjust="spacing">(205hp@5972rpm) (182lbft@5972rpm) Smoothing:2</text>
<rect x="40" y="466.5" width="872" height="1.6" fill="#262626"/>
<text x="21.5" y="391.00" font-size="13" fill="#151515" text-anchor="middle">50</text>
<text x="928.8" y="391.00" font-size="13" fill="#151515" text-anchor="middle">50</text>
<text x="21.5" y="311.00" font-size="13" fill="#151515" text-anchor="middle">100</text>
<text x="928.8" y="311.00" font-size="13" fill="#151515" text-anchor="middle">100</text>
<text x="21.5" y="231.00" font-size="13" fill="#151515" text-anchor="middle">150</text>
<text x="928.8" y="231.00" font-size="13" fill="#151515" text-anchor="middle">150</text>
<text x="21.5" y="151.00" font-size="13" fill="#151515" text-anchor="middle">200</text>
<text x="928.8" y="151.00" font-size="13" fill="#151515" text-anchor="middle">200</text>
<text x="21.5" y="71.00" font-size="13" fill="#151515" text-anchor="middle">250</text>
<text x="928.8" y="71.00" font-size="13" fill="#151515" text-anchor="middle">250</text>
<text transform="translate(957.7,284.3) rotate(-90)" font-size="11" fill="#151515" textLength="75" lengthAdjust="spacing">Power (WHP)</text>
<defs><pattern id="mgrid" x="54" y="603" width="6" height="15" patternUnits="userSpaceOnUse"><rect x="0" y="0" width="1" height="15" fill="#d9d9d9"/><rect x="0" y="0" width="1" height="1" fill="#a6a6a6"/><rect x="0" y="2" width="1" height="1" fill="#a6a6a6"/><rect x="0" y="4" width="1" height="1" fill="#a6a6a6"/><rect x="0" y="6" width="1" height="1" fill="#a6a6a6"/><rect x="0" y="8" width="1" height="1" fill="#a6a6a6"/><rect x="0" y="10" width="1" height="1" fill="#a6a6a6"/></pattern></defs>
<rect x="51" y="477" width="851" height="188" fill="url(#mgrid)"/>
<line x1="265.5" y1="477" x2="265.5" y2="665" stroke="#8e8e8e" stroke-width="1"/>
<line x1="481.5" y1="477" x2="481.5" y2="665" stroke="#8e8e8e" stroke-width="1"/>
<line x1="696.5" y1="477" x2="696.5" y2="665" stroke="#8e8e8e" stroke-width="1"/>
<path d="M44.9,565.67 L47.9,565.42 L50.9,565.16 L53.9,564.91 L56.9,564.66 L59.9,564.41 L62.9,564.15 L65.9,563.90 L68.9,563.64 L71.9,563.39 L74.9,563.13 L77.9,562.87 L80.9,562.61 L83.9,562.35 L86.9,562.09 L89.9,561.83 L92.9,561.56 L95.9,561.30 L98.9,561.03 L101.9,560.76 L104.9,560.49 L107.9,560.22 L110.9,559.95 L113.9,559.67 L116.9,559.40 L119.9,559.12 L122.9,558.84 L125.9,558.55 L128.9,558.27 L131.9,557.98 L134.9,557.69 L137.9,557.40 L140.9,557.11 L143.9,556.81 L146.9,556.51 L149.9,556.21 L152.9,555.90 L155.9,555.60 L158.9,555.29 L161.9,554.97 L164.9,554.66 L167.9,554.34 L170.9,554.02 L173.9,553.69 L176.9,553.36 L179.9,553.03 L182.9,552.69 L185.9,552.35 L188.9,552.01 L191.9,551.66 L194.9,551.30 L197.9,550.94 L200.9,550.57 L203.9,550.20 L206.9,549.83 L209.9,549.44 L212.9,549.05 L215.9,548.66 L218.9,548.25 L221.9,547.84 L224.9,547.43 L227.9,547.00 L230.9,546.57 L233.9,546.14 L236.9,545.69 L239.9,545.23 L242.9,544.77 L245.9,544.30 L248.9,543.82 L251.9,543.33 L254.9,542.83 L257.9,542.33 L260.9,541.81 L263.9,541.28 L266.9,540.75 L269.9,540.20 L272.9,539.64 L275.9,539.08 L278.9,538.50 L281.9,537.92 L284.9,537.33 L287.9,536.73 L290.9,536.12 L293.9,535.51 L296.9,534.88 L299.9,534.26 L302.9,533.62 L305.9,532.98 L308.9,532.33 L311.9,531.68 L314.9,531.02 L317.9,530.36 L320.9,529.69 L323.9,529.02 L326.9,528.34 L329.9,527.66 L332.9,526.98 L335.9,526.30 L338.9,525.62 L341.9,524.94 L344.9,524.27 L347.9,523.62 L350.9,522.98 L353.9,522.36 L356.9,521.77 L359.9,521.20 L362.9,520.66 L365.9,520.15 L368.9,519.67 L371.9,519.22 L374.9,518.79 L377.9,518.39 L380.9,518.01 L383.9,517.66 L386.9,517.33 L389.9,517.02 L392.9,516.74 L395.9,516.47 L398.9,516.22 L401.9,515.99 L404.9,515.77 L407.9,515.57 L410.9,515.38 L413.9,515.21 L416.9,515.05 L419.9,514.90 L422.9,514.76 L425.9,514.63 L428.9,514.51 L431.9,514.40 L434.9,514.29 L437.9,514.19 L440.9,514.09 L443.9,514.00 L446.9,513.90 L449.9,513.81 L452.9,513.72 L455.9,513.63 L458.9,513.53 L461.9,513.44 L464.9,513.34 L467.9,513.23 L470.9,513.12 L473.9,513.01 L476.9,512.89 L479.9,512.78 L482.9,512.66 L485.9,512.54 L488.9,512.43 L491.9,512.32 L494.9,512.21 L497.9,512.11 L500.9,512.01 L503.9,511.92 L506.9,511.82 L509.9,511.73 L512.9,511.63 L515.9,511.53 L518.9,511.43 L521.9,511.33 L524.9,511.22 L527.9,511.11 L530.9,511.00 L533.9,510.89 L536.9,510.78 L539.9,510.66 L542.9,510.54 L545.9,510.43 L548.9,510.31 L551.9,510.18 L554.9,510.06 L557.9,509.94 L560.9,509.81 L563.9,509.69 L566.9,509.56 L569.9,509.43 L572.9,509.30 L575.9,509.17 L578.9,509.04 L581.9,508.91 L584.9,508.77 L587.9,508.64 L590.9,508.51 L593.9,508.37 L596.9,508.24 L599.9,508.11 L602.9,507.97 L605.9,507.84 L608.9,507.70 L611.9,507.56 L614.9,507.43 L617.9,507.29 L620.9,507.16 L623.9,507.02 L626.9,506.88 L629.9,506.74 L632.9,506.60 L635.9,506.46 L638.9,506.32 L641.9,506.18 L644.9,506.04 L647.9,505.90 L650.9,505.75 L653.9,505.61 L656.9,505.46 L659.9,505.32 L662.9,505.17 L665.9,505.02 L668.9,504.87 L671.9,504.72 L674.9,504.57 L677.9,504.42 L680.9,504.27 L683.9,504.11 L686.9,503.96 L689.9,503.80 L692.9,503.64 L695.9,503.48 L698.9,503.32 L701.9,503.16 L704.9,502.99 L707.9,502.83 L710.9,502.66 L713.9,502.49 L716.9,502.32 L719.9,502.15 L722.9,501.98 L725.9,501.80 L728.9,501.63 L731.9,501.45 L734.9,501.27 L737.9,501.09 L740.9,500.90 L743.9,500.72 L746.9,500.53 L749.9,500.35 L752.9,500.16 L755.9,499.97 L758.9,499.78 L761.9,499.59 L764.9,499.41 L767.9,499.22 L770.9,499.03 L773.9,498.84 L776.9,498.66 L779.9,498.47 L782.9,498.29 L785.9,498.10 L788.9,497.92 L791.9,497.74 L794.9,497.56 L797.9,497.39 L800.9,497.21 L803.9,497.04 L806.9,496.87 L809.9,496.71 L812.9,496.54 L815.9,496.38 L818.9,496.22 L821.9,496.07 L824.9,495.92 L827.9,495.77 L830.9,495.63 L833.9,495.49 L836.9,495.34 L839.9,495.20 L842.9,495.05 L845.9,494.90 L848.9,494.75 L851.9,494.59 L854.9,494.42 L857.9,494.25 L860.9,494.07 L863.9,493.88 L866.9,493.68 L869.9,493.46 L872.9,493.24 L875.9,493.00 L878.9,492.74 L881.9,492.47 L884.9,492.18 L887.9,491.87 L890.9,491.55 L893.9,491.20 L896.9,490.84 L899.9,490.45 L901.7,490.20" fill="none" stroke="#24469a" stroke-width="2.3" stroke-dasharray="2.5 2.5"/>
<path d="M81.9,559.83 L84.9,559.52 L87.9,559.22 L90.9,558.92 L93.9,558.63 L96.9,558.35 L99.9,558.07 L102.9,557.79 L105.9,557.52 L108.9,557.25 L111.9,556.98 L114.9,556.72 L117.9,556.46 L120.9,556.20 L123.9,555.94 L126.9,555.68 L129.9,555.42 L132.9,555.16 L135.9,554.89 L138.9,554.63 L141.9,554.37 L144.9,554.10 L147.9,553.82 L150.9,553.55 L153.9,553.27 L156.9,552.98 L159.9,552.69 L162.9,552.40 L165.9,552.10 L168.9,551.79 L171.9,551.47 L174.9,551.15 L177.9,550.81 L180.9,550.47 L183.9,550.12 L186.9,549.76 L189.9,549.39 L192.9,549.01 L195.9,548.62 L198.9,548.21 L201.9,547.80 L204.9,547.37 L207.9,546.93 L210.9,546.48 L213.9,546.02 L216.9,545.55 L219.9,545.06 L222.9,544.57 L225.9,544.06 L228.9,543.55 L231.9,543.02 L234.9,542.49 L237.9,541.94 L240.9,541.39 L243.9,540.83 L246.9,540.25 L249.9,539.67 L252.9,539.08 L255.9,538.49 L258.9,537.88 L261.9,537.27 L264.9,536.65 L267.9,536.02 L270.9,535.38 L273.9,534.74 L276.9,534.09 L279.9,533.43 L282.9,532.77 L285.9,532.10 L288.9,531.43 L291.9,530.75 L294.9,530.06 L297.9,529.37 L300.9,528.67 L303.9,527.97 L306.9,527.27 L309.9,526.57 L312.9,525.87 L315.9,525.18 L318.9,524.50 L321.9,523.83 L324.9,523.17 L327.9,522.53 L330.9,521.91 L333.9,521.31 L336.9,520.73 L339.9,520.18 L342.9,519.65 L345.9,519.16 L348.9,518.70 L351.9,518.27 L354.9,517.88 L357.9,517.53 L360.9,517.21 L363.9,516.93 L366.9,516.67 L369.9,516.45 L372.9,516.24 L375.9,516.06 L378.9,515.89 L381.9,515.74 L384.9,515.60 L387.9,515.47 L390.9,515.36 L393.9,515.25 L396.9,515.15 L399.9,515.06 L402.9,514.97 L405.9,514.89 L408.9,514.81 L411.9,514.73 L414.9,514.65 L417.9,514.58 L420.9,514.50 L423.9,514.43 L426.9,514.35 L429.9,514.26 L432.9,514.18 L435.9,514.08 L438.9,513.98 L441.9,513.88 L444.9,513.77 L447.9,513.65 L450.9,513.54 L453.9,513.42 L456.9,513.29 L459.9,513.17 L462.9,513.04 L465.9,512.91 L468.9,512.78 L471.9,512.65 L474.9,512.51 L477.9,512.38 L480.9,512.25 L483.9,512.11 L486.9,511.98 L489.9,511.85 L492.9,511.72 L495.9,511.58 L498.9,511.45 L501.9,511.32 L504.9,511.19 L507.9,511.06 L510.9,510.93 L513.9,510.80 L516.9,510.67 L519.9,510.55 L522.9,510.42 L525.9,510.29 L528.9,510.16 L531.9,510.03 L534.9,509.90 L537.9,509.78 L540.9,509.65 L543.9,509.52 L546.9,509.39 L549.9,509.26 L552.9,509.13 L555.9,509.01 L558.9,508.88 L561.9,508.75 L564.9,508.62 L567.9,508.49 L570.9,508.36 L573.9,508.23 L576.9,508.10 L579.9,507.97 L582.9,507.84 L585.9,507.71 L588.9,507.58 L591.9,507.45 L594.9,507.32 L597.9,507.19 L600.9,507.05 L603.9,506.92 L606.9,506.79 L609.9,506.65 L612.9,506.52 L615.9,506.38 L618.9,506.25 L621.9,506.11 L624.9,505.98 L627.9,505.84 L630.9,505.70 L633.9,505.56 L636.9,505.42 L639.9,505.28 L642.9,505.14 L645.9,505.00 L648.9,504.85 L651.9,504.71 L654.9,504.56 L657.9,504.42 L660.9,504.27 L663.9,504.12 L666.9,503.97 L669.9,503.82 L672.9,503.67 L675.9,503.52 L678.9,503.37 L681.9,503.21 L684.9,503.06 L687.9,502.90 L690.9,502.74 L693.9,502.59 L696.9,502.43 L699.9,502.26 L702.9,502.10 L705.9,501.94 L708.9,501.77 L711.9,501.61 L714.9,501.44 L717.9,501.27 L720.9,501.10 L723.9,500.92 L726.9,500.75 L729.9,500.57 L732.9,500.40 L735.9,500.22 L738.9,500.04 L741.9,499.86 L744.9,499.67 L747.9,499.49 L750.9,499.30 L753.9,499.11 L756.9,498.92 L759.9,498.73 L762.9,498.54 L765.9,498.34 L768.9,498.14 L771.9,497.94 L774.9,497.74 L777.9,497.54 L780.9,497.33 L783.9,497.13 L786.9,496.92 L789.9,496.71 L792.9,496.49 L795.9,496.28 L798.9,496.06 L801.9,495.84 L804.9,495.62 L807.9,495.40 L810.9,495.17 L813.9,494.94 L816.9,494.71 L819.9,494.48 L822.9,494.24 L825.9,494.01 L828.9,493.77 L831.9,493.52 L834.9,493.28 L837.9,493.03 L840.9,492.78 L843.9,492.53 L846.9,492.28 L849.9,492.02 L852.9,491.76 L855.9,491.50 L858.9,491.24 L861.9,490.97 L864.9,490.70 L867.9,490.43 L870.9,490.15 L873.9,489.87 L876.9,489.59 L879.9,489.31 L882.9,489.02 L885.9,488.74 L888.9,488.44 L891.9,488.15 L894.9,487.85 L897.9,487.55 L900.9,487.25 L901.7,487.17" fill="none" stroke="#d5332a" stroke-width="2.3" stroke-dasharray="2.5 2.5" stroke-dashoffset="2.5"/>
<defs><pattern id="band" x="0" y="603" width="12" height="15" patternUnits="userSpaceOnUse"><rect width="12" height="15" fill="#e4e4e4"/><rect y="11" width="12" height="4" fill="#c4c4c4"/><rect y="0" width="12" height="1" fill="#505050"/><rect y="2" width="12" height="1" fill="#505050"/><rect y="4" width="12" height="1" fill="#000"/><rect y="6" width="12" height="1" fill="#000"/><rect y="8" width="12" height="1" fill="#505050"/><rect y="10" width="12" height="1" fill="#505050"/></pattern></defs>
<rect x="45" y="477" width="4.6" height="188" fill="url(#band)"/>
<rect x="902" y="477" width="9.2" height="188" fill="url(#band)"/>
<rect x="44" y="476" width="1" height="190" fill="#111"/>
<rect x="906" y="476" width="1.5" height="190" fill="#111"/>
<rect x="40" y="475.7" width="872" height="1.5" fill="#222"/>
<rect x="40" y="664.6" width="872" height="1.6" fill="#222"/>
<line x1="49.5" y1="661.0" x2="49.5" y2="669.5" stroke="#333" stroke-width="1.2"/>
<line x1="49.5" y1="476.4" x2="49.5" y2="481.0" stroke="#333" stroke-width="1.2"/>
<line x1="92.5" y1="664.0" x2="92.5" y2="667.8" stroke="#666" stroke-width="1.2"/>
<line x1="92.5" y1="476.4" x2="92.5" y2="479.0" stroke="#333" stroke-width="1.2"/>
<line x1="135.5" y1="664.0" x2="135.5" y2="667.8" stroke="#666" stroke-width="1.2"/>
<line x1="135.5" y1="476.4" x2="135.5" y2="479.0" stroke="#333" stroke-width="1.2"/>
<line x1="178.5" y1="664.0" x2="178.5" y2="667.8" stroke="#666" stroke-width="1.2"/>
<line x1="178.5" y1="476.4" x2="178.5" y2="479.0" stroke="#333" stroke-width="1.2"/>
<line x1="222.5" y1="664.0" x2="222.5" y2="667.8" stroke="#666" stroke-width="1.2"/>
<line x1="222.5" y1="476.4" x2="222.5" y2="479.0" stroke="#333" stroke-width="1.2"/>
<line x1="265.5" y1="661.0" x2="265.5" y2="669.5" stroke="#333" stroke-width="1.2"/>
<line x1="265.5" y1="476.4" x2="265.5" y2="481.0" stroke="#333" stroke-width="1.2"/>
<line x1="308.5" y1="664.0" x2="308.5" y2="667.8" stroke="#666" stroke-width="1.2"/>
<line x1="308.5" y1="476.4" x2="308.5" y2="479.0" stroke="#333" stroke-width="1.2"/>
<line x1="351.5" y1="664.0" x2="351.5" y2="667.8" stroke="#666" stroke-width="1.2"/>
<line x1="351.5" y1="476.4" x2="351.5" y2="479.0" stroke="#333" stroke-width="1.2"/>
<line x1="394.5" y1="664.0" x2="394.5" y2="667.8" stroke="#666" stroke-width="1.2"/>
<line x1="394.5" y1="476.4" x2="394.5" y2="479.0" stroke="#333" stroke-width="1.2"/>
<line x1="437.5" y1="664.0" x2="437.5" y2="667.8" stroke="#666" stroke-width="1.2"/>
<line x1="437.5" y1="476.4" x2="437.5" y2="479.0" stroke="#333" stroke-width="1.2"/>
<line x1="481.5" y1="661.0" x2="481.5" y2="669.5" stroke="#333" stroke-width="1.2"/>
<line x1="481.5" y1="476.4" x2="481.5" y2="481.0" stroke="#333" stroke-width="1.2"/>
<line x1="524.5" y1="664.0" x2="524.5" y2="667.8" stroke="#666" stroke-width="1.2"/>
<line x1="524.5" y1="476.4" x2="524.5" y2="479.0" stroke="#333" stroke-width="1.2"/>
<line x1="567.5" y1="664.0" x2="567.5" y2="667.8" stroke="#666" stroke-width="1.2"/>
<line x1="567.5" y1="476.4" x2="567.5" y2="479.0" stroke="#333" stroke-width="1.2"/>
<line x1="610.5" y1="664.0" x2="610.5" y2="667.8" stroke="#666" stroke-width="1.2"/>
<line x1="610.5" y1="476.4" x2="610.5" y2="479.0" stroke="#333" stroke-width="1.2"/>
<line x1="653.5" y1="664.0" x2="653.5" y2="667.8" stroke="#666" stroke-width="1.2"/>
<line x1="653.5" y1="476.4" x2="653.5" y2="479.0" stroke="#333" stroke-width="1.2"/>
<line x1="696.5" y1="661.0" x2="696.5" y2="669.5" stroke="#333" stroke-width="1.2"/>
<line x1="696.5" y1="476.4" x2="696.5" y2="481.0" stroke="#333" stroke-width="1.2"/>
<line x1="740.5" y1="664.0" x2="740.5" y2="667.8" stroke="#666" stroke-width="1.2"/>
<line x1="740.5" y1="476.4" x2="740.5" y2="479.0" stroke="#333" stroke-width="1.2"/>
<line x1="783.5" y1="664.0" x2="783.5" y2="667.8" stroke="#666" stroke-width="1.2"/>
<line x1="783.5" y1="476.4" x2="783.5" y2="479.0" stroke="#333" stroke-width="1.2"/>
<line x1="826.5" y1="664.0" x2="826.5" y2="667.8" stroke="#666" stroke-width="1.2"/>
<line x1="826.5" y1="476.4" x2="826.5" y2="479.0" stroke="#333" stroke-width="1.2"/>
<line x1="869.5" y1="664.0" x2="869.5" y2="667.8" stroke="#666" stroke-width="1.2"/>
<line x1="869.5" y1="476.4" x2="869.5" y2="479.0" stroke="#333" stroke-width="1.2"/>
<text x="928.8" y="668.60" font-size="13" fill="#151515" text-anchor="middle">0</text>
<text x="928.8" y="649.78" font-size="13" fill="#151515" text-anchor="middle">20</text>
<text x="928.8" y="630.96" font-size="13" fill="#151515" text-anchor="middle">40</text>
<text x="928.8" y="612.14" font-size="13" fill="#151515" text-anchor="middle">60</text>
<text x="928.8" y="593.32" font-size="13" fill="#151515" text-anchor="middle">80</text>
<text x="928.8" y="574.50" font-size="13" fill="#151515" text-anchor="middle">100</text>
<text x="928.8" y="555.68" font-size="13" fill="#151515" text-anchor="middle">120</text>
<text x="928.8" y="536.86" font-size="13" fill="#151515" text-anchor="middle">140</text>
<text x="928.8" y="518.04" font-size="13" fill="#151515" text-anchor="middle">160</text>
<text x="928.8" y="499.22" font-size="13" fill="#151515" text-anchor="middle">180</text>
<text x="28.3" y="668.5" font-size="13" fill="#151515" text-anchor="middle">0</text>
<text transform="translate(957.9,608.3) rotate(-90)" font-size="11.2" fill="#151515" textLength="76.5" lengthAdjust="spacing">Boost (MBar)</text>
<text transform="translate(11.9,599.3) rotate(-90)" font-size="11.9" fill="#151515" textLength="57.7" lengthAdjust="spacing">Air / Fuel</text>
<text x="48.8" y="685.8" font-size="13" fill="#151515" text-anchor="middle" textLength="29.7" lengthAdjust="spacing">2000</text>
<text x="264.5" y="685.8" font-size="13" fill="#151515" text-anchor="middle" textLength="29.7" lengthAdjust="spacing">3000</text>
<text x="480.2" y="685.8" font-size="13" fill="#151515" text-anchor="middle" textLength="29.7" lengthAdjust="spacing">4000</text>
<text x="696.5" y="685.8" font-size="13" fill="#151515" text-anchor="middle" textLength="29.7" lengthAdjust="spacing">5000</text>
<text x="416.5" y="705.5" font-size="11.3" fill="#151515" textLength="117.2" lengthAdjust="spacing">Engine Speed (RPM)</text>
</svg></body></html>
